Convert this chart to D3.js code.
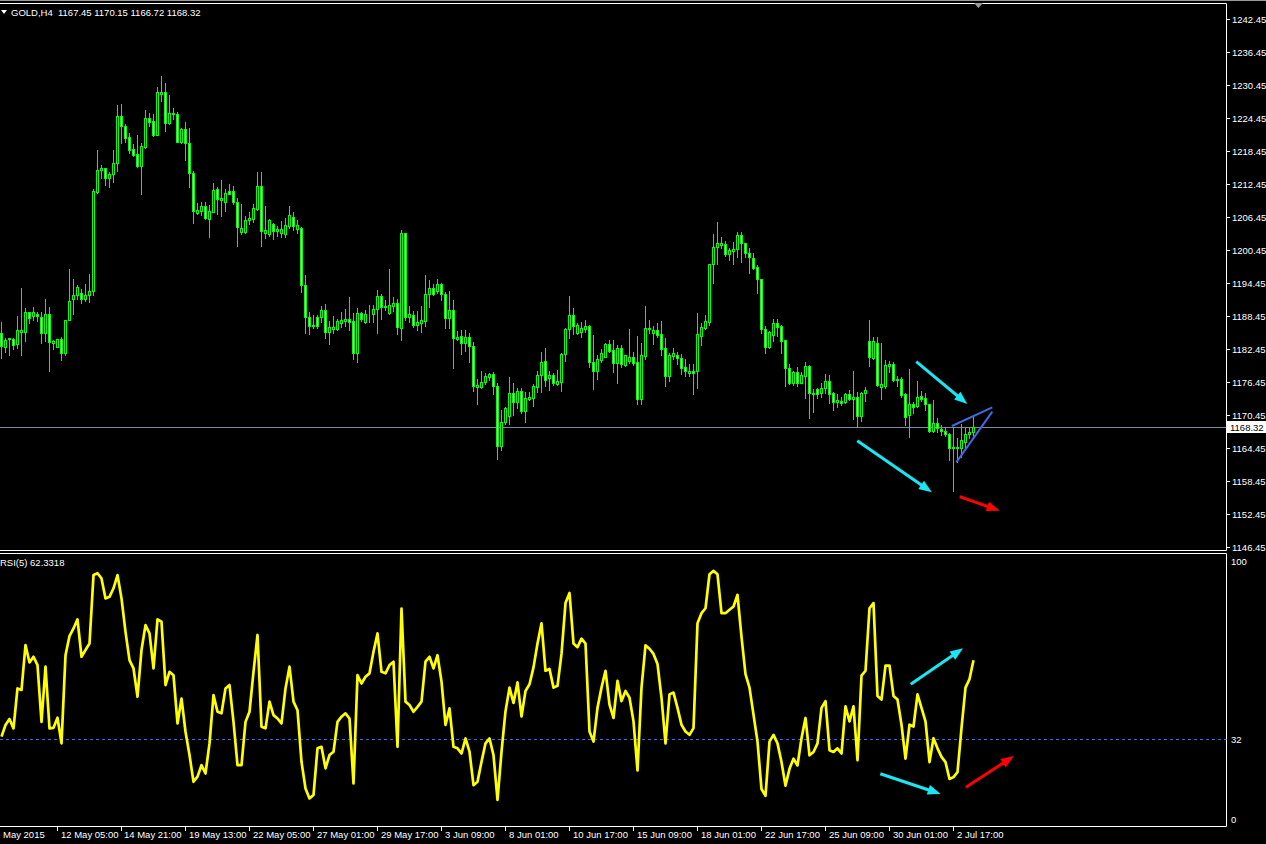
<!DOCTYPE html>
<html><head><meta charset="utf-8">
<script src="https://cdn.jsdelivr.net/npm/d3@7"></script>
<style>html,body{margin:0;padding:0;background:#000;overflow:hidden}svg{display:block}</style>
</head><body><svg id="c" width="1266" height="844"></svg>
<script>
// ---------- DATA (GOLD, H4) ----------
const opens = [1185.42,1182.87,1184.20,1184.20,1183.30,1185.60,1185.60,1189.12,1188.51,1188.75,1188.21,1185.42,1188.75,1183.60,1182.87,1184.20,1181.78,1187.66,1191.48,1192.21,1192.63,1191.48,1192.21,1192.99,1211.00,1214.93,1215.30,1213.60,1214.21,1216.21,1224.75,1222.99,1220.93,1218.75,1217.84,1215.72,1219.24,1224.39,1223.90,1221.36,1228.87,1229.12,1223.60,1225.12,1225.12,1220.15,1222.45,1219.84,1214.39,1207.24,1207.60,1208.51,1206.15,1207.42,1211.54,1209.48,1209.12,1211.18,1211.18,1209.12,1203.78,1203.72,1205.96,1206.09,1207.96,1212.09,1203.48,1203.42,1205.12,1203.96,1203.48,1203.42,1204.81,1206.39,1204.33,1204.51,1194.09,1188.21,1186.63,1188.27,1188.21,1189.48,1185.48,1186.03,1186.03,1187.12,1187.54,1187.84,1187.48,1181.66,1188.93,1187.30,1188.75,1188.81,1189.66,1192.03,1190.15,1189.06,1190.33,1190.75,1186.21,1203.48,1188.33,1188.57,1186.81,1187.18,1187.60,1192.45,1193.48,1193.06,1194.27,1192.39,1188.15,1189.48,1184.27,1184.87,1183.48,1184.57,1183.00,1175.60,1175.60,1176.39,1177.42,1177.84,1175.78,1164.87,1169.12,1170.33,1174.39,1172.87,1174.81,1171.24,1173.36,1173.48,1175.60,1177.72,1180.21,1177.12,1177.72,1176.09,1176.51,1181.54,1186.03,1188.63,1185.30,1185.60,1186.15,1186.63,1180.03,1178.51,1180.45,1181.06,1183.36,1182.27,1179.84,1182.57,1179.54,1180.33,1180.93,1180.03,1173.36,1181.24,1186.03,1185.42,1185.90,1185.12,1182.57,1177.60,1181.24,1181.36,1180.75,1179.12,1178.15,1178.45,1178.51,1184.87,1186.33,1187.42,1197.84,1200.93,1201.42,1201.48,1199.66,1200.33,1200.57,1203.12,1201.66,1199.84,1198.93,1197.30,1195.12,1186.03,1182.87,1184.99,1187.12,1186.63,1184.09,1178.93,1176.33,1178.21,1176.33,1177.60,1179.42,1174.33,1175.12,1174.39,1175.30,1176.69,1174.39,1172.87,1173.06,1172.75,1174.21,1173.30,1173.78,1170.33,1174.39,1183.90,1180.87,1183.60,1175.60,1175.72,1179.36,1179.66,1176.81,1176.99,1174.21,1170.45,1172.39,1172.09,1173.96,1173.48,1172.39,1167.60,1168.93,1167.90,1167.54,1166.93,1164.39,1164.39,1164.51,1165.60,1166.93,1167.45];
const highs = [1187.36,1184.51,1184.51,1184.51,1188.45,1193.48,1189.84,1189.12,1190.09,1189.12,1189.12,1191.54,1190.09,1184.15,1184.33,1184.63,1187.66,1196.99,1195.18,1194.09,1193.36,1194.27,1196.09,1211.54,1218.63,1215.90,1215.30,1214.63,1218.63,1226.75,1226.93,1223.36,1221.66,1219.72,1221.36,1219.84,1225.90,1225.30,1225.12,1230.09,1232.09,1230.81,1228.63,1226.21,1225.60,1222.63,1223.78,1222.57,1214.81,1208.93,1209.24,1209.12,1208.57,1212.69,1211.96,1213.18,1211.48,1212.45,1212.09,1209.96,1208.75,1206.69,1207.42,1208.81,1214.69,1214.69,1208.45,1206.09,1205.30,1204.87,1205.72,1206.27,1208.51,1207.30,1205.84,1204.69,1195.90,1189.24,1188.63,1188.63,1190.27,1190.63,1187.54,1188.45,1187.96,1189.12,1189.72,1191.90,1189.06,1189.84,1189.24,1189.54,1190.45,1190.45,1193.18,1192.45,1191.36,1196.99,1191.96,1191.54,1204.09,1203.60,1190.27,1189.42,1189.36,1190.27,1195.90,1194.99,1194.27,1195.18,1194.39,1192.75,1192.99,1191.36,1185.78,1185.90,1185.90,1185.42,1183.72,1176.99,1178.51,1178.03,1178.15,1178.21,1176.33,1171.36,1171.84,1177.30,1176.33,1175.42,1175.42,1174.57,1174.69,1176.09,1178.39,1181.90,1182.57,1178.51,1178.03,1178.63,1181.66,1186.21,1192.09,1189.84,1187.12,1187.30,1187.72,1186.75,1184.99,1181.36,1182.39,1183.60,1184.03,1184.09,1183.18,1183.18,1181.36,1186.09,1181.84,1184.81,1183.48,1190.27,1187.72,1186.63,1187.24,1187.60,1184.39,1181.78,1182.57,1181.96,1181.54,1180.63,1179.72,1179.72,1188.93,1187.12,1188.63,1197.84,1203.36,1205.48,1202.75,1202.15,1200.87,1201.96,1203.78,1203.66,1201.78,1200.75,1199.84,1197.72,1195.12,1186.69,1185.72,1187.84,1187.84,1186.81,1184.09,1179.72,1178.45,1179.12,1178.21,1180.03,1179.54,1175.12,1175.42,1176.21,1177.90,1177.72,1174.57,1174.21,1173.78,1174.51,1174.99,1178.45,1174.57,1174.69,1175.48,1187.72,1184.57,1184.57,1183.48,1180.45,1180.27,1180.15,1177.54,1177.30,1174.39,1178.81,1172.87,1176.63,1174.81,1174.39,1172.39,1173.18,1169.84,1168.63,1168.27,1167.24,1168.33,1166.21,1168.81,1168.03,1168.03,1170.15];
const lows = [1180.87,1181.96,1181.36,1182.51,1182.69,1181.36,1183.90,1187.24,1187.66,1187.54,1183.60,1183.90,1178.45,1182.51,1182.75,1180.51,1181.36,1187.66,1188.81,1191.54,1190.87,1191.18,1191.06,1192.27,1210.87,1213.60,1212.27,1211.90,1212.87,1214.81,1219.96,1220.15,1218.15,1217.60,1215.60,1210.63,1219.06,1222.99,1221.18,1221.36,1227.54,1222.09,1223.42,1224.21,1220.15,1219.96,1216.81,1211.96,1205.42,1206.93,1206.75,1206.03,1202.87,1207.42,1206.99,1206.69,1207.54,1210.57,1208.75,1201.24,1203.36,1203.60,1205.24,1205.60,1207.72,1201.24,1202.69,1202.99,1202.45,1203.06,1202.87,1202.81,1204.51,1204.09,1203.60,1192.87,1185.42,1185.18,1186.33,1186.21,1187.42,1184.51,1183.42,1185.30,1185.90,1186.51,1186.69,1185.90,1180.63,1180.15,1187.54,1187.12,1187.42,1187.42,1185.42,1187.90,1189.54,1188.81,1189.36,1185.18,1184.09,1187.72,1187.30,1186.51,1185.90,1185.60,1186.69,1190.15,1192.27,1192.69,1191.36,1186.33,1186.21,1179.06,1184.03,1181.60,1182.15,1180.15,1174.87,1172.51,1175.30,1176.03,1176.81,1174.27,1162.45,1164.09,1168.75,1168.81,1170.45,1171.66,1170.87,1169.24,1173.18,1172.09,1174.69,1174.57,1175.72,1175.00,1175.90,1175.90,1174.87,1180.27,1184.39,1185.18,1185.18,1184.69,1185.60,1179.24,1175.18,1176.99,1180.15,1180.93,1181.96,1178.33,1176.33,1179.24,1179.42,1179.84,1179.54,1172.45,1172.45,1180.63,1185.30,1183.36,1184.69,1181.36,1175.72,1176.63,1180.63,1179.72,1177.90,1177.54,1177.54,1174.27,1175.42,1183.18,1186.03,1186.81,1194.51,1197.90,1200.75,1199.42,1198.63,1197.90,1199.12,1198.33,1199.24,1196.33,1196.93,1192.69,1185.42,1181.78,1182.69,1183.90,1184.81,1181.78,1175.78,1176.09,1175.90,1175.78,1176.27,1173.60,1169.96,1171.06,1173.48,1173.66,1174.39,1172.57,1171.36,1171.96,1172.27,1172.57,1173.18,1169.72,1168.33,1169.42,1173.06,1179.42,1180.57,1175.72,1173.36,1175.42,1178.33,1176.63,1175.72,1173.78,1168.63,1166.51,1170.75,1171.84,1173.06,1171.36,1167.30,1167.42,1167.30,1166.81,1166.69,1162.27,1156.69,1161.96,1162.87,1164.69,1166.21,1166.72];
const closes = [1183.00,1184.09,1184.39,1183.18,1185.84,1185.84,1189.12,1188.15,1189.24,1188.39,1185.42,1188.75,1183.78,1183.90,1184.20,1181.78,1187.66,1191.18,1192.21,1193.72,1191.48,1192.21,1192.99,1211.18,1214.93,1215.36,1213.60,1214.27,1216.21,1224.75,1222.99,1220.75,1218.63,1217.72,1215.72,1219.36,1224.39,1223.78,1221.36,1229.12,1229.12,1223.60,1225.30,1225.42,1220.15,1222.45,1219.84,1214.39,1207.60,1207.66,1208.51,1206.21,1207.54,1211.36,1209.78,1209.90,1210.75,1210.69,1209.12,1204.57,1204.39,1205.84,1206.21,1208.03,1212.09,1203.96,1204.03,1205.84,1203.96,1204.33,1204.27,1205.06,1206.75,1204.87,1204.93,1194.09,1188.21,1186.69,1186.81,1186.69,1189.48,1185.48,1186.39,1186.39,1187.48,1187.66,1187.90,1187.42,1181.66,1188.93,1187.96,1188.81,1188.81,1189.72,1192.03,1190.15,1190.33,1190.45,1190.75,1186.39,1203.48,1188.33,1188.75,1186.81,1187.30,1187.72,1192.45,1193.48,1192.45,1194.27,1192.39,1188.15,1189.48,1184.39,1184.69,1183.48,1184.57,1183.00,1175.78,1175.90,1176.39,1177.54,1177.84,1175.78,1164.87,1169.12,1171.66,1174.39,1172.87,1174.81,1171.24,1173.60,1173.66,1175.72,1177.72,1180.09,1176.81,1177.72,1176.33,1176.69,1181.54,1186.03,1188.63,1186.69,1186.81,1186.21,1186.63,1180.03,1178.51,1180.57,1181.66,1183.36,1182.15,1179.84,1182.57,1179.66,1181.36,1180.93,1179.96,1173.36,1181.36,1186.27,1186.27,1185.90,1184.99,1182.45,1177.60,1181.36,1181.66,1180.75,1179.06,1178.51,1178.45,1178.15,1185.12,1186.51,1187.54,1197.84,1200.93,1201.66,1201.66,1199.66,1200.45,1200.57,1203.12,1201.66,1199.84,1199.12,1197.24,1195.12,1186.03,1182.87,1185.60,1187.12,1186.51,1183.96,1179.06,1176.33,1178.33,1176.33,1177.72,1179.36,1174.39,1174.51,1174.27,1175.30,1176.69,1174.27,1172.87,1173.18,1172.57,1174.21,1173.30,1173.78,1170.27,1174.39,1174.99,1180.93,1183.90,1175.90,1176.03,1179.54,1179.66,1176.81,1176.99,1174.09,1170.03,1172.39,1171.84,1173.78,1173.36,1172.39,1167.60,1168.93,1168.03,1167.54,1166.93,1164.39,1164.57,1164.69,1165.90,1166.93,1167.30,1168.32];
const rsi5 = [32.9,37.4,39.7,36.1,51.5,50.9,68.2,61.5,63.7,60.5,38.6,59.9,36.1,36.3,40.2,30.3,64.3,71.7,74.6,78.1,63.7,66.3,68.8,95.2,95.9,93.9,86.2,86.8,90.1,95.2,86.2,73.3,62.4,59.2,48.3,66.3,75.9,72.7,59.2,78.1,77.2,52.8,57.9,56.6,38.0,47.6,34.8,25.8,15.5,17.5,21.9,18.7,30.3,48.9,42.5,41.9,51.5,52.8,38.6,21.9,21.9,38.6,42.5,57.9,72.1,36.7,36.1,46.4,41.2,39.9,38.0,51.5,59.9,46.4,43.1,23.2,12.9,9.1,10.4,28.4,29.0,20.7,25.8,27.1,38.6,40.6,41.9,39.9,14.9,56.6,53.4,56.0,57.3,65.6,72.7,57.9,57.3,60.5,61.8,29.0,82.3,46.4,45.1,42.5,44.4,46.4,61.8,63.7,59.2,64.3,54.1,37.4,43.8,29.0,28.4,26.4,32.2,27.1,14.2,15.5,23.2,30.3,32.2,25.8,8.5,27.0,42.7,51.8,45.9,53.8,40.7,50.5,53.1,59.6,68.8,76.6,58.3,59.0,51.8,52.5,64.8,84.4,88.3,68.8,67.4,70.7,68.8,34.9,31.0,44.0,51.8,58.3,45.3,40.1,54.4,46.6,50.5,47.9,38.8,19.9,51.8,68.1,66.8,64.8,60.9,47.9,30.3,49.2,49.9,44.0,37.5,34.9,33.6,36.2,76.6,80.5,82.4,95.5,96.8,95.5,80.5,80.5,81.8,83.1,87.6,71.4,57.0,51.8,41.4,31.0,12.7,10.1,31.0,33.6,30.3,23.1,14.0,20.5,24.4,21.8,32.3,40.1,25.7,27.0,30.3,44.0,46.6,27.7,27.0,28.4,26.4,44.6,38.8,44.6,23.8,56.4,58.3,82.4,84.4,48.6,47.2,60.3,60.3,48.6,47.2,37.5,24.4,37.5,36.8,49.2,44.0,38.8,23.1,32.3,28.4,25.1,23.1,16.6,17.3,19.2,36.2,51.8,55.1,62.33];
const priceTicks = [1242.45,1236.45,1230.45,1224.45,1218.45,1212.45,1206.45,1200.45,1194.45,1188.45,1182.45,1176.45,1170.45,1164.45,1158.45,1152.45,1146.45];
const rsiTicks = [100, 32, 0];
const rsiLevel = 32;
const timeTickBars = [14,30,46,62,78,94,110,126,142,158,174,190,206,222,238];
const timeTickLabels = ["12 May 05:00","14 May 21:00","19 May 13:00","22 May 05:00","27 May 01:00","29 May 17:00","3 Jun 09:00","8 Jun 01:00","10 Jun 17:00","15 Jun 09:00","18 Jun 01:00","22 Jun 17:00","25 Jun 09:00","30 Jun 01:00","2 Jul 17:00"];
const firstLabel = "May 2015";
const symbolTitle = "GOLD,H4";
const rsiTitle = "RSI(5) 62.3318";
// annotations: [bar, value] pairs
const priceArrows = [
  {from:[228.7,1180.14], to:[241.45,1172.45], color:"cyan"},
  {from:[213.95,1165.78], to:[232.6,1156.40], color:"cyan"},
  {from:[239.55,1155.6], to:[249.55,1153.05], color:"red"}];
const trendLines = [
  {from:[237.6,1168.45], to:[247.7,1171.85]},
  {from:[238.7,1161.85], to:[247.7,1171.05]}];
const rsiArrows = [
  {from:[227.3,53.1], to:[240.4,67.0], color:"cyan"},
  {from:[219.7,18.6], to:[234.8,10.8], color:"cyan"},
  {from:[241.1,13.4], to:[253.1,25.4], color:"red"}];

// ---------- DRAW ----------
const svg = d3.select("#c");
const W = 1266, H = 844;
const FONT = "Liberation Sans, Arial, sans-serif";
const GREEN = "#00ff00", CYAN = "#19e6f2", RED = "#ff0000", BLUE = "#4169e1";
const axisX = 1226.5;
const n = closes.length;
const x = d3.scaleLinear().domain([0, n - 1]).range([1.5, 1.5 + 4 * (n - 1)]);
const y = d3.scaleLinear().domain([1146.45, 1242.45]).range([547, 19]);
const yr = d3.scaleLinear().domain([0, 100]).range([822, 562.6]);
const px = v => Math.round(v);

svg.append("rect").attr("width", W).attr("height", H).attr("fill", "#000");

// frame
const frame = svg.append("g").attr("stroke", "#fff").attr("stroke-width", 1).attr("fill", "none");
frame.append("line").attr("x1", 0).attr("x2", W).attr("y1", 0.5).attr("y2", 0.5).attr("stroke", "#9a9a9a");
frame.append("line").attr("x1", 0).attr("x2", axisX).attr("y1", 3.5).attr("y2", 3.5);
frame.append("line").attr("x1", 0).attr("x2", axisX).attr("y1", 550.5).attr("y2", 550.5);
frame.append("line").attr("x1", 0).attr("x2", axisX).attr("y1", 553.5).attr("y2", 553.5);
frame.append("line").attr("x1", 0).attr("x2", axisX).attr("y1", 826.5).attr("y2", 826.5);
frame.append("line").attr("x1", axisX).attr("x2", axisX).attr("y1", 3.5).attr("y2", 550.5);
frame.append("line").attr("x1", axisX).attr("x2", axisX).attr("y1", 553.5).attr("y2", 826.5);

// chart shift marker
svg.append("path").attr("d", d3.line()([[974, 3], [983, 3], [978.5, 8]]) + "Z").attr("fill", "#9a9a9a");

// price axis
const pa = svg.append("g");
pa.selectAll("line").data(priceTicks).join("line")
  .attr("x1", axisX + 0.5).attr("x2", axisX + 3.5)
  .attr("y1", d => px(y(d)) + 0.5).attr("y2", d => px(y(d)) + 0.5).attr("stroke", "#fff");
pa.selectAll("text").data(priceTicks).join("text")
  .attr("x", 1232).attr("y", d => px(y(d)) + 3.5)
  .attr("fill", "#fff").attr("font-family", FONT).attr("font-size", 9.5)
  .text(d => d.toFixed(2));

// main panel clip
svg.append("clipPath").attr("id", "mainclip").append("rect").attr("x", 0).attr("y", 4).attr("width", axisX).attr("height", 546);
const main = svg.append("g").attr("clip-path", "url(#mainclip)");

// last price line
const last = closes[n - 1];
main.append("line").attr("x1", 0).attr("x2", axisX).attr("y1", px(y(last)) + 0.5).attr("y2", px(y(last)) + 0.5)
  .attr("stroke", "#7d8b9f").attr("stroke-width", 1);

// candles
const idx = d3.range(n);
main.append("g").selectAll("line").data(idx).join("line")
  .attr("x1", i => px(x(i) - 0.5) + 0.5).attr("x2", i => px(x(i) - 0.5) + 0.5)
  .attr("y1", i => px(y(highs[i]))).attr("y2", i => px(y(lows[i])) + 1)
  .attr("stroke", GREEN).attr("stroke-width", 1);
main.append("g").selectAll("rect").data(idx).join("rect")
  .attr("x", i => px(x(i) - 0.5) - 0.5)
  .attr("y", i => px(y(Math.max(opens[i], closes[i]))) + 0.5)
  .attr("width", 2)
  .attr("height", i => Math.max(0, px(y(Math.min(opens[i], closes[i]))) - px(y(Math.max(opens[i], closes[i])))))
  .attr("fill", i => closes[i] < opens[i] ? "#fff" : "#000")
  .attr("stroke", GREEN).attr("stroke-width", 1);

// arrows helper
function arrow(g, p0, p1, color, w, headLen, headW) {
  const dx = p1[0] - p0[0], dy = p1[1] - p0[1];
  const L = Math.hypot(dx, dy), ux = dx / L, uy = dy / L;
  const bx = p1[0] - ux * headLen, by = p1[1] - uy * headLen;
  g.append("line").attr("x1", p0[0]).attr("y1", p0[1]).attr("x2", bx + ux * 2).attr("y2", by + uy * 2)
    .attr("stroke", color).attr("stroke-width", w);
  g.append("path").attr("d", d3.line()([p1, [bx - uy * headW / 2, by + ux * headW / 2], [bx + uy * headW / 2, by - ux * headW / 2]]) + "Z")
    .attr("fill", color);
}
const colorOf = c => c === "red" ? RED : CYAN;
const ann = svg.append("g");
priceArrows.forEach(a => arrow(ann, [x(a.from[0]), y(a.from[1])], [x(a.to[0]), y(a.to[1])], colorOf(a.color), 3, 13, 10));
trendLines.forEach(t => ann.append("line")
  .attr("x1", x(t.from[0])).attr("y1", y(t.from[1])).attr("x2", x(t.to[0])).attr("y2", y(t.to[1]))
  .attr("stroke", BLUE).attr("stroke-width", 2));

// last price label
const ly = px(y(last));
svg.append("rect").attr("x", 1227).attr("y", ly - 6).attr("width", 39).attr("height", 12).attr("fill", "#fff");
svg.append("text").attr("x", 1230).attr("y", ly + 3.5).attr("fill", "#000")
  .attr("font-family", FONT).attr("font-size", 9.5).text(last.toFixed(2));

// header
svg.append("path").attr("d", d3.line()([[1, 10], [7, 10], [4, 14]]) + "Z").attr("fill", "#fff");
svg.append("text").attr("x", 11).attr("y", 16).attr("fill", "#fff").attr("font-family", FONT).attr("font-size", 9.5)
  .attr("xml:space", "preserve")
  .text(symbolTitle + "  " + [opens[n - 1], highs[n - 1], lows[n - 1], closes[n - 1]].map(v => v.toFixed(2)).join(" "));

// RSI panel
const rp = svg.append("g");
rp.append("line").attr("x1", 0).attr("x2", axisX).attr("y1", px(yr(rsiLevel)) + 0.5).attr("y2", px(yr(rsiLevel)) + 0.5)
  .attr("stroke", BLUE).attr("stroke-width", 1).attr("stroke-dasharray", "3,3");
rp.append("path").datum(rsi5)
  .attr("d", d3.line().x((d, i) => x(i)).y(d => yr(d)))
  .attr("fill", "none").attr("stroke", "#ffff00").attr("stroke-width", 2.7).attr("stroke-linejoin", "round");
rp.append("text").attr("x", 0).attr("y", 566).attr("fill", "#fff").attr("font-family", FONT).attr("font-size", 9.5).text(rsiTitle);
rp.selectAll(".rt").data(rsiTicks).join("text").attr("class", "rt")
  .attr("x", 1231).attr("y", d => d === 100 ? 565 : d === 0 ? 823 : px(yr(d)) + 3.5)
  .attr("fill", "#fff").attr("font-family", FONT).attr("font-size", 9.5).text(d => d);
rsiArrows.forEach(a => arrow(ann, [x(a.from[0]), yr(a.from[1])], [x(a.to[0]), yr(a.to[1])], colorOf(a.color), 3, 13, 10));

// time axis
const ta = svg.append("g");
ta.selectAll("line").data(timeTickBars).join("line")
  .attr("x1", d => px(x(d) - 0.5) + 0.5).attr("x2", d => px(x(d) - 0.5) + 0.5)
  .attr("y1", 827).attr("y2", 831).attr("stroke", "#fff");
ta.selectAll("text").data(timeTickBars).join("text")
  .attr("x", d => px(x(d)) + 3).attr("y", 838)
  .attr("fill", "#fff").attr("font-family", FONT).attr("font-size", 9.5)
  .text((d, i) => timeTickLabels[i]);
ta.append("text").attr("x", 3).attr("y", 838).attr("fill", "#fff").attr("font-family", FONT).attr("font-size", 9.5).text(firstLabel);
</script></body></html>
